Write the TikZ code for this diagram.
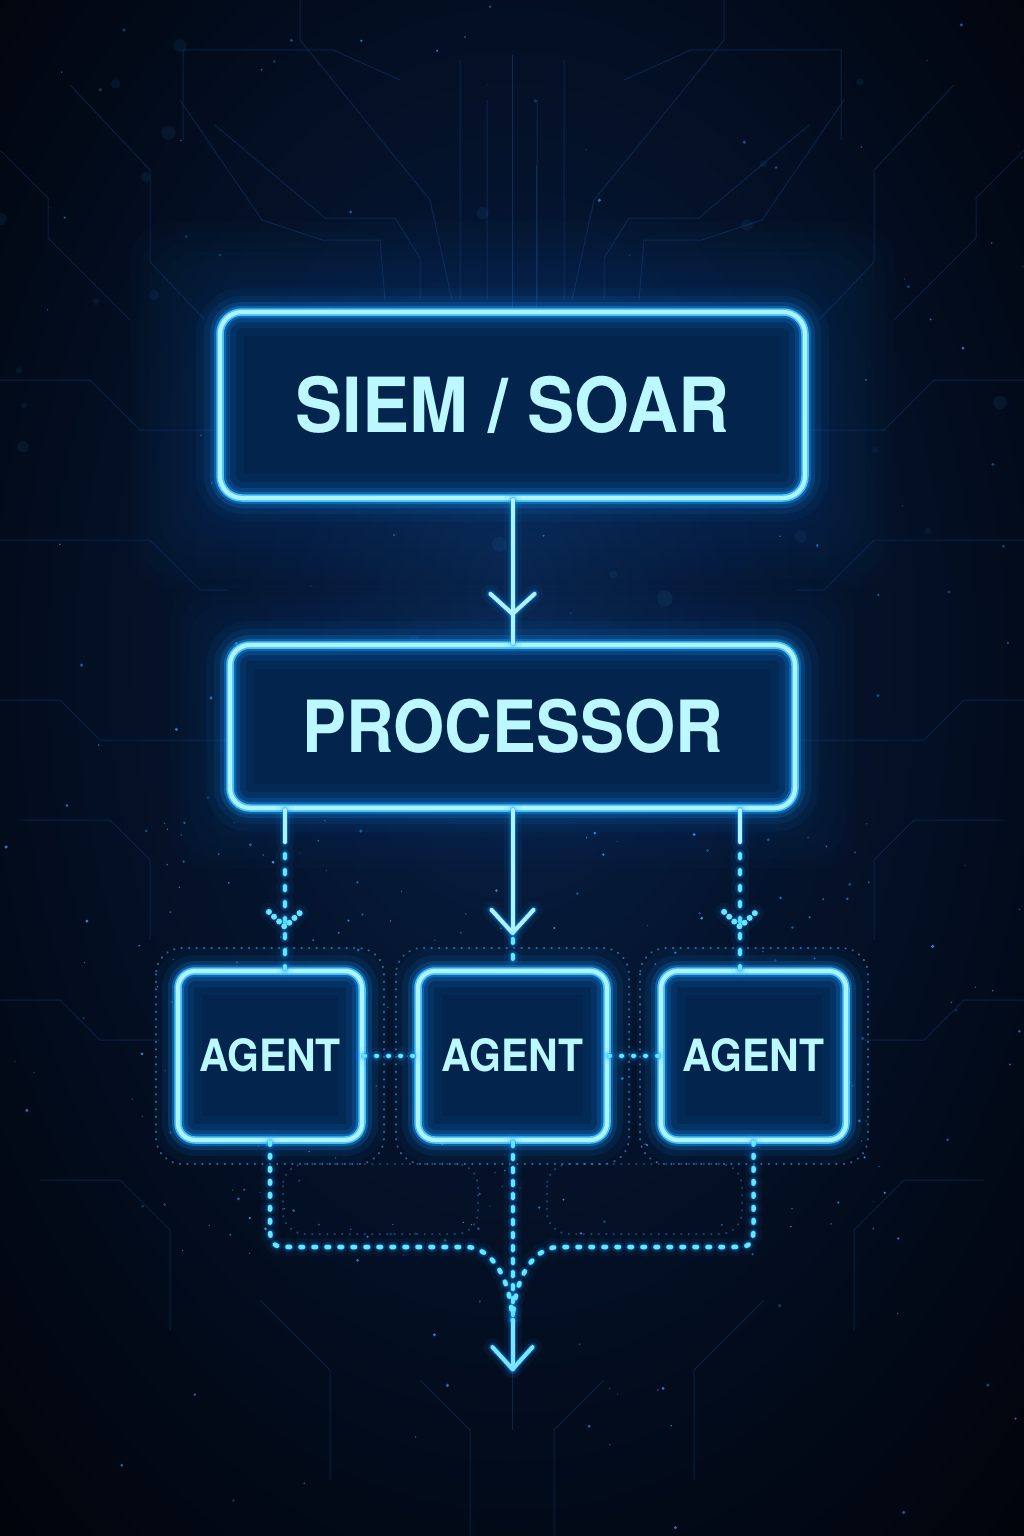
\documentclass[tikz,border=0pt]{standalone}
\usepackage{fontspec}
\setmainfont{TeX Gyre Heros}
\usepackage{graphicx}
\usetikzlibrary{calc}
\definecolor{bgin}{HTML}{08244C}
\definecolor{bgmid}{HTML}{04132C}
\definecolor{bgout}{HTML}{01040B}
\definecolor{glowc}{HTML}{1597FF}
\definecolor{corec}{HTML}{AEF4FF}
\definecolor{midc}{HTML}{5ADBFF}
\definecolor{txtc}{HTML}{BBF8FF}
\definecolor{boxfill}{HTML}{03244C}
\definecolor{dashc}{HTML}{66E6FF}
\definecolor{tracec}{HTML}{1D5CA6}
\definecolor{starc}{HTML}{3FA9FF}
\definecolor{framec}{HTML}{2F9BE6}
\pgfdeclareradialshading{bgshade}{\pgfpoint{0bp}{6bp}}{color(0bp)=(bgin); color(15bp)=(bgmid); color(36bp)=(bgout); color(50bp)=(bgout)}
\newcommand\glowdraw[2][]{%
  \draw[glowc, line width=18pt, opacity=0.06, line cap=round, line join=round, #1] #2;
  \draw[glowc, line width=10pt, opacity=0.16, line cap=round, line join=round, #1] #2;
  \draw[glowc, line width=6pt, opacity=0.45, line cap=round, line join=round, #1] #2;
}
\newcommand\tracesleft{%
  \draw[tracec, line width=1pt, opacity=0.28]
    (0,150) -- (48,198) -- (48,238) -- (130,320)
    (70,85) -- (150,170) -- (150,262) -- (205,320)
    (183,140) -- (183,50) -- (333,50) -- (400,80)
    (180,100) -- (262,220) -- (322,240) -- (380,240) -- (385,300)
    (215,125) -- (325,218) -- (395,218) -- (420,258) -- (420,300)
    (300,0) -- (300,40) -- (430,200) -- (452,300)
    (487,100) -- (487,300)
    (460,60) -- (460,300)
    (0,540) -- (150,540) -- (200,590) -- (228,590)
    (0,700) -- (60,700) -- (100,740) -- (228,740)
    (20,820) -- (110,820) -- (150,860) -- (150,940)
    (0,1000) -- (60,1000) -- (100,1040) -- (160,1040)
    (40,1180) -- (120,1180) -- (170,1230) -- (170,1330)
    (260,1300) -- (330,1370) -- (330,1480)
    (420,1380) -- (470,1430) -- (470,1536)
    (0,380) -- (90,380) -- (140,430) -- (215,430);
}
\tikzset{
  neon/.style={rounded corners=#1, inner sep=0pt, text=txtc,
    preaction={fill=boxfill},
    preaction={draw=glowc, line width=48pt, draw opacity=0.05},
    preaction={draw=glowc, line width=32pt, draw opacity=0.09},
    preaction={draw=glowc, line width=20pt, draw opacity=0.18},
    preaction={draw=glowc, line width=12pt, draw opacity=0.40},
    preaction={draw=midc, line width=7.5pt, draw opacity=0.8},
    draw=corec, line width=4.2pt},
  coreline/.style={draw=corec, line width=4pt, line cap=round, line join=round},
  dashline/.style={draw=dashc, line width=4pt, line cap=round, dash pattern=on 4pt off 12pt},
  busline/.style={draw=dashc, line width=4.5pt, line cap=round, dash pattern=on 2.5pt off 10.5pt},
  dotline/.style={draw=dashc, line width=4pt, line cap=round, dash pattern=on 1pt off 11pt},
  framebox/.style={draw=framec, line width=2pt, line cap=round, dash pattern=on 0.5pt off 7pt, opacity=0.65, rounded corners=26pt},
  bigtxt/.style={font=\bfseries\fontsize{76}{80}\selectfont},
  midtxt/.style={font=\bfseries\fontsize{72}{76}\selectfont},
  smalltxt/.style={font=\bfseries\fontsize{44.5}{48}\selectfont},
}
\begin{document}
\begin{tikzpicture}[x=1pt,y=-1pt]
\useasboundingbox (0,0) rectangle (1024,1536);
\shade[shading=bgshade] (0,0) rectangle (1024,1536);
% circuit traces
\tracesleft
\begin{scope}[xshift=1024pt, xscale=-1]
\tracesleft
\end{scope}
\draw[tracec, line width=1pt, opacity=0.35] (512,55) -- (512,312);
\draw[tracec, line width=1pt, opacity=0.28] (536,165) -- (536,312);
\draw[tracec, line width=1pt, opacity=0.3] (512,1370) -- (512,1430);
% stars
\pgfmathsetseed{4242}
\foreach \i in {1,...,150}{
  \pgfmathsetmacro\sx{rnd*1024}
  \pgfmathsetmacro\sy{rnd*1536}
  \pgfmathsetmacro\sr{0.6+rnd*1.3}
  \pgfmathsetmacro\so{0.2+rnd*0.55}
  \fill[starc, opacity=\so] (\sx,\sy) circle (\sr pt);
}
\foreach \i in {1,...,170}{
  \pgfmathsetmacro\sx{130+rnd*760}
  \pgfmathsetmacro\sy{820+rnd*440}
  \pgfmathsetmacro\sr{0.5+rnd*1.2}
  \pgfmathsetmacro\so{0.3+rnd*0.6}
  \fill[starc, opacity=\so] (\sx,\sy) circle (\sr pt);
}
\foreach \i in {1,...,30}{
  \pgfmathsetmacro\sx{rnd*1024}
  \pgfmathsetmacro\sy{rnd*700}
  \pgfmathsetmacro\sr{3+rnd*5}
  \fill[starc, opacity=0.07] (\sx,\sy) circle (\sr pt);
}
% soft halo behind top boxes
\foreach \e in {90,80,...,20}{
  \fill[glowc, opacity=0.014, rounded corners=40pt] (220-\e,312-\e) rectangle (805+\e,498+\e);
}
\foreach \e in {60,50,...,20}{
  \fill[glowc, opacity=0.014, rounded corners=35pt] (230-\e,645-\e) rectangle (795+\e,808+\e);
}
% faint dotted frames
\draw[framebox] (156,948) rectangle (384,1164);
\draw[framebox] (396,948) rectangle (629,1164);
\draw[framebox] (640,948) rectangle (868,1164);
\draw[framebox, rounded corners=22pt, opacity=0.4] (283,1164) rectangle (478,1234);
\draw[framebox, rounded corners=22pt, opacity=0.4] (547,1164) rectangle (742,1234);

% boxes
\node[neon=22pt, minimum width=585pt, minimum height=186pt, bigtxt] (siem) at (512.5,405) {\scalebox{0.93}[1]{SIEM / SOAR}};
\node[neon=20pt, minimum width=565pt, minimum height=163pt, midtxt] (proc) at (512.5,726.5) {\scalebox{0.915}[1]{PROCESSOR}};
\node[neon=17pt, minimum width=184pt, minimum height=169pt, smalltxt] (a1) at (270,1055.5) {\scalebox{0.92}[1]{AGENT}};
\node[neon=17pt, minimum width=189pt, minimum height=169pt, smalltxt] (a2) at (512.5,1055.5) {\scalebox{0.92}[1]{AGENT}};
\node[neon=17pt, minimum width=185pt, minimum height=169pt, smalltxt] (a3) at (753.5,1055.5) {\scalebox{0.92}[1]{AGENT}};

\coordinate (pl) at ($(proc.south west)+(57,0)$);
\coordinate (pr) at ($(proc.south east)+(-57,0)$);
\coordinate (m) at ($(a2.south)+(0,178)$);
\coordinate (tip) at ($(a2.south)+(0,227)$);

% SIEM -> PROCESSOR
\glowdraw{(siem.south) -- (proc.north)}
\glowdraw{($(proc.north)+(-22,-49)$) -- ($(proc.north)+(0,-29)$) -- ($(proc.north)+(22,-49)$)}
\draw[coreline] (siem.south) -- (proc.north);
\draw[coreline] ($(proc.north)+(-22,-49)$) -- ($(proc.north)+(0,-29)$) -- ($(proc.north)+(22,-49)$);

% PROCESSOR -> middle agent
\glowdraw{(proc.south) -- ($(a2.north)+(0,-36)$)}
\glowdraw{($(a2.north)+(-21,-59)$) -- ($(a2.north)+(0,-36)$) -- ($(a2.north)+(21,-59)$)}
\draw[coreline] (proc.south) -- ($(a2.north)+(0,-36)$);
\draw[coreline] ($(a2.north)+(-21,-59)$) -- ($(a2.north)+(0,-36)$) -- ($(a2.north)+(21,-59)$);
\glowdraw[dash pattern=on 4pt off 12pt]{($(a2.north)+(0,-30)$) -- (a2.north)}
\draw[dashline] ($(a2.north)+(0,-30)$) -- (a2.north);

% PROCESSOR -> left / right agents
\foreach \p/\a in {pl/a1, pr/a3}{
  \glowdraw{(\p) -- ++(0,32)}
  \draw[coreline] (\p) -- ++(0,32);
  \glowdraw[dash pattern=on 4pt off 12pt]{($(\p)+(0,44)$) -- (\p |- \a.north)}
  \draw[dashline] ($(\p)+(0,44)$) -- (\p |- \a.north);
  \glowdraw[dash pattern=on 0.01pt off 7pt]{($(\p |- \a.north)+(-16,-57)$) -- ($(\p |- \a.north)+(0,-42)$) -- ($(\p |- \a.north)+(16,-57)$)}
  \draw[dashc, line width=6pt, line cap=round, dash pattern=on 0.01pt off 7pt]
    ($(\p |- \a.north)+(-16,-57)$) -- ($(\p |- \a.north)+(0,-42)$) -- ($(\p |- \a.north)+(16,-57)$);
}

% between agents
\glowdraw[dash pattern=on 1pt off 11pt]{(a1.east) -- (a2.west)}
\glowdraw[dash pattern=on 1pt off 11pt]{(a2.east) -- (a3.west)}
\draw[dotline] (a1.east) -- (a2.west);
\draw[dotline] (a2.east) -- (a3.west);

% agents -> output
\glowdraw[dash pattern=on 2.5pt off 10.5pt]{(a1.south) -- (270,1220) .. controls (270,1247) .. (297,1247) -- (468,1247) .. controls (492,1249) and (510,1277) .. (m)}
\glowdraw[dash pattern=on 2.5pt off 10.5pt]{(a3.south) -- (753.5,1220) .. controls (753.5,1247) .. (726.5,1247) -- (557,1247) .. controls (533,1249) and (515,1277) .. (m)}
\glowdraw[dash pattern=on 4pt off 9pt]{(a2.south) -- (m)}
\draw[busline] (a1.south) -- (270,1220) .. controls (270,1247) .. (297,1247) -- (468,1247) .. controls (492,1249) and (510,1277) .. (m);
\draw[busline] (a3.south) -- (753.5,1220) .. controls (753.5,1247) .. (726.5,1247) -- (557,1247) .. controls (533,1249) and (515,1277) .. (m);
\draw[dashc, line width=4pt, line cap=round, dash pattern=on 4pt off 9pt] (a2.south) -- (m);

\glowdraw{(m) -- (tip)}
\glowdraw{($(tip)+(-20,-22)$) -- (tip) -- ($(tip)+(20,-22)$)}
\draw[coreline, draw=midc!60!corec] (m) -- (tip);
\draw[coreline, draw=midc!60!corec] ($(tip)+(-20,-22)$) -- (tip) -- ($(tip)+(20,-22)$);
\end{tikzpicture}
\end{document}
